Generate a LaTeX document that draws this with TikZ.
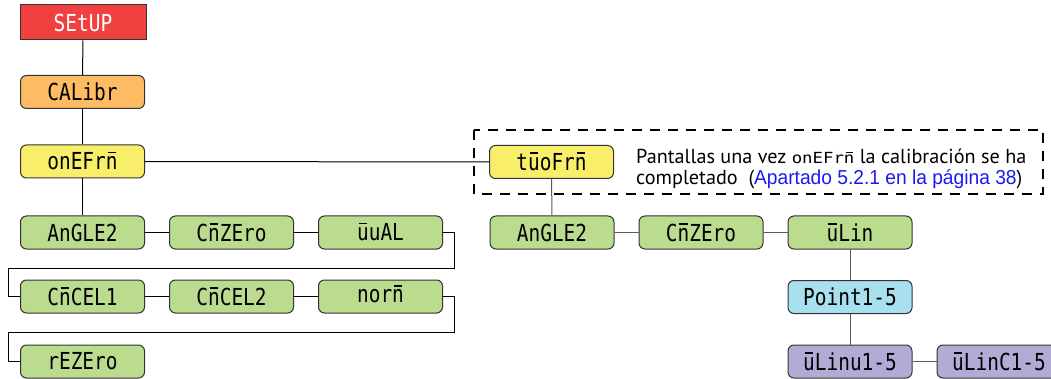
\documentclass[tikz,border=0pt]{standalone}
\usepackage{fontspec}
\usepackage{graphicx}
\setmainfont{PT Sans}
\newfontfamily\segf{DejaVu Sans Mono}
\newfontfamily\narrowf[FakeStretch=0.95]{Liberation Sans}
\newcommand\ovl[1]{\leavevmode\ooalign{#1\cr\hidewidth\raisebox{0.70em}{\rule{0.42em}{0.07em}}\hidewidth\cr}}
\newcommand\seg[1]{{\segf\fontsize{18}{18}\selectfont\scalebox{1.08}[1.3]{#1}}}
\newcommand\segsmall[1]{{\segf\fontsize{17}{17}\selectfont\scalebox{1.02}[0.9]{#1}}}
\definecolor{cred}{HTML}{F04040}
\definecolor{corange}{HTML}{FDBB63}
\definecolor{cyellow}{HTML}{F8EE6A}
\definecolor{cgreen}{HTML}{BBDB8E}
\definecolor{ccyan}{HTML}{A8E0EE}
\definecolor{cpurple}{HTML}{B2ABD6}
\definecolor{cborder}{HTML}{333333}
\definecolor{clink}{HTML}{1A1AF0}
\definecolor{cgline}{HTML}{5A5A5A}
\begin{document}
\begin{tikzpicture}[x=1pt,y=-1pt,
  box/.style={draw=cborder, line width=1pt, rounded corners=6pt, minimum width=124pt, minimum height=33pt, inner sep=0pt},
  redbox/.style={box, rounded corners=0pt, fill=cred, minimum width=126pt, minimum height=35pt, text=white},
  orbox/.style={box, fill=corange},
  yebox/.style={box, fill=cyellow},
  grbox/.style={box, fill=cgreen},
  cybox/.style={box, fill=ccyan},
  pubox/.style={box, fill=cpurple},
  link/.style={draw=black, line width=1pt},
  glink/.style={draw=cgline, line width=1pt},
  notebox/.style={draw=black, line width=1.8pt, dash pattern=on 10pt off 8pt},
  notetext/.style={anchor=base west, inner sep=0pt, font=\fontsize{20.2}{22}\selectfont}
]
\useasboundingbox (0,0) rectangle (1051,379);
% dashed note box
\draw[notebox] (474,130) rectangle (1043,194);
% left tree
\node[redbox] (setup) at (83,22.5) {\seg{SEtUP}};
\node[orbox] (calibr) at (82.5,92) {\seg{CALibr}};
\node[yebox] (onefrm) at (82.5,161.5) {\seg{onEFr\ovl{n}}};
\node[grbox] (angle) at (82.5,232.5) {\seg{AnGLE2}};
\node[grbox] (cmzero) at (231.5,232.5) {\seg{C\ovl{n}ZEro}};
\node[grbox] (wval) at (380.5,232.5) {\seg{\ovl{u}uAL}};
\node[grbox] (cmcel1) at (82.5,296.5) {\seg{C\ovl{n}CEL1}};
\node[grbox] (cmcel2) at (231.5,296.5) {\seg{C\ovl{n}CEL2}};
\node[grbox] (norm) at (380.5,296.5) {\seg{nor\ovl{n}}};
\node[grbox] (rezero) at (82.5,361.5) {\seg{rEZEro}};
% right tree
\node[yebox] (twofrm) at (551.5,162) {\seg{t\ovl{u}oFr\ovl{n}}};
\node[grbox] (angleb) at (552,232.5) {\seg{AnGLE2}};
\node[grbox] (cmzerob) at (701,232.5) {\seg{C\ovl{n}ZEro}};
\node[grbox] (wlin) at (850,232.5) {\seg{\ovl{u}Lin}};
\node[cybox] (point) at (850,297) {\seg{Point1-5}};
\node[pubox] (wlinw) at (850,361.5) {\seg{\ovl{u}Linu1-5}};
\node[pubox] (wlinc) at (999,361.5) {\seg{\ovl{u}LinC1-5}};
% note text
\node[notetext] (note1) at (636,164) {Pantallas una vez \segsmall{onEFr\ovl{n}} la calibración se ha};
\node[notetext] (note2) at (636,185) {completado\ \ ({\narrowf\color{clink}Apartado 5.2.1 en la página 38})};
% connectors
\coordinate (w1) at (454,268);
\coordinate (w2) at (8,268);
\coordinate (w3) at (454,332);
\coordinate (w4) at (8,332);
\draw[link] (setup) -- (calibr);
\draw[link] (calibr) -- (onefrm);
\draw[link] (onefrm) -- (angle);
\draw[link] (angle) -- (cmzero);
\draw[link] (cmzero) -- (wval);
\draw[link] (wval.east) -| (w1) -- (w2) |- (cmcel1.west);
\draw[link] (cmcel1) -- (cmcel2);
\draw[link] (cmcel2) -- (norm);
\draw[link] (norm.east) -| (w3) -- (w4) |- (rezero.west);
\draw[link] (onefrm) -- (twofrm);
\draw[glink] (twofrm) -- (angleb);
\draw[glink] (angleb) -- (cmzerob);
\draw[glink] (cmzerob) -- (wlin);
\draw[glink] (wlin) -- (point);
\draw[glink] (point) -- (wlinw);
\draw[glink] (wlinw) -- (wlinc);
\end{tikzpicture}
\end{document}
